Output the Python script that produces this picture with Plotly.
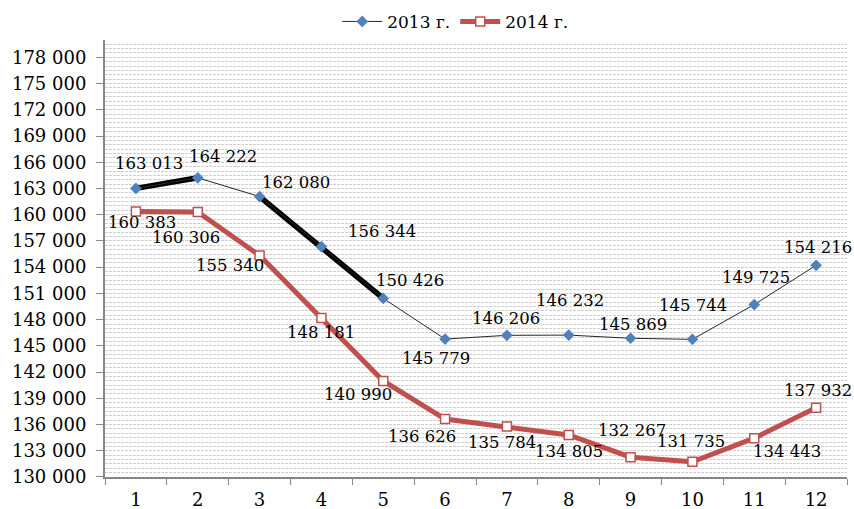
import plotly.graph_objects as go

# Monthly values
months = [str(m) for m in range(1, 13)]
values_2013 = [163013, 164222, 162080, 156344, 150426, 145779,
               146206, 146232, 145869, 145744, 149725, 154216]
values_2014 = [160383, 160306, 155340, 148181, 140990, 136626,
               135784, 134805, 132267, 131735, 134443, 137932]
series_names = ["2013 г.", "2014 г."]

# Stretches of 2013 drawn as heavy black segments (index ranges)
highlight_ranges = [(0, 1), (2, 4)]

# Y axis ticks
y_ticks = list(range(130000, 178001, 3000))
y_ticktext = [f"{v:,}".replace(",", " ") for v in y_ticks]

# Label offsets in pixels (dx, dy; dy positive = up)
label_off_2013 = [(13, 25), (25, 21), (36, 14), (61, 15), (27, 18), (-9, -19),
                  (-1, 17), (1, 35), (2, 14), (1, 34), (2, 27), (2, 18)]
label_off_2014 = [(6, -11), (-12, -25), (-30, -10), (0, -14), (-25, -14), (-23, -17),
                  (-5, -16), (0, -17), (1, 27), (-1, 20), (33, -13), (2, 17)]

FONT = "DejaVu Serif"
fig = go.Figure()

for a, b in highlight_ranges:
    fig.add_trace(go.Scatter(
        x=months[a:b + 1], y=values_2013[a:b + 1], mode="lines",
        line=dict(color="black", width=5.5), showlegend=False, hoverinfo="skip"))

fig.add_trace(go.Scatter(
    x=months, y=values_2013, name=series_names[0], mode="lines+markers",
    line=dict(color="#262626", width=1),
    marker=dict(symbol="diamond", size=9, color="#4F81BD")))

fig.add_trace(go.Scatter(
    x=months, y=values_2014, name=series_names[1], mode="lines+markers",
    line=dict(color="#C0504D", width=5),
    marker=dict(symbol="square", size=9, color="white",
                line=dict(color="#C0504D", width=1.5))))

annotations = []
for vals, offs in ((values_2013, label_off_2013), (values_2014, label_off_2014)):
    for i, (v, (dx, dy)) in enumerate(zip(vals, offs)):
        # category axes take the category index as the annotation position
        annotations.append(dict(
            x=i, y=v, xref="x", yref="y", text=f"{v:,}".replace(",", " "),
            showarrow=False, xshift=dx, yshift=dy,
            font=dict(family=FONT, size=16.5, color="black")))

fig.update_layout(
    width=854, height=509,
    margin=dict(l=105, r=7, t=36, b=32),
    paper_bgcolor="white", plot_bgcolor="white",
    font=dict(family=FONT, size=18, color="black"),
    annotations=annotations,
    showlegend=True,
    legend=dict(orientation="h", x=0.472, xanchor="center",
                yref="container", y=0.957, yanchor="middle",
                font=dict(family=FONT, size=17), bgcolor="rgba(0,0,0,0)",
                itemwidth=40, tracegroupgap=0),
    xaxis=dict(type="category", range=[-0.5, 11.5], tickson="boundaries",
               ticks="outside", ticklen=6, tickcolor="#868686",
               showline=True, linecolor="#868686", linewidth=2,
               showgrid=False, zeroline=False, automargin=False,
               ticklabelstandoff=5,
               tickfont=dict(family=FONT, size=18)),
    yaxis=dict(range=[130000, 180000], tickvals=y_ticks, ticktext=y_ticktext,
               ticks="outside", ticklen=7, tickcolor="#868686",
               showline=True, linecolor="#868686", linewidth=2,
               showgrid=True, gridcolor="#cfcfcf", gridwidth=1, griddash="3px,1px",
               minor=dict(dtick=500, tick0=130000, showgrid=True,
                          gridcolor="#cfcfcf", gridwidth=1, griddash="3px,1px"),
               zeroline=False, automargin=False, ticklabelstandoff=6,
               tickfont=dict(family=FONT, size=18)),
)

fig.write_html("out.html")
